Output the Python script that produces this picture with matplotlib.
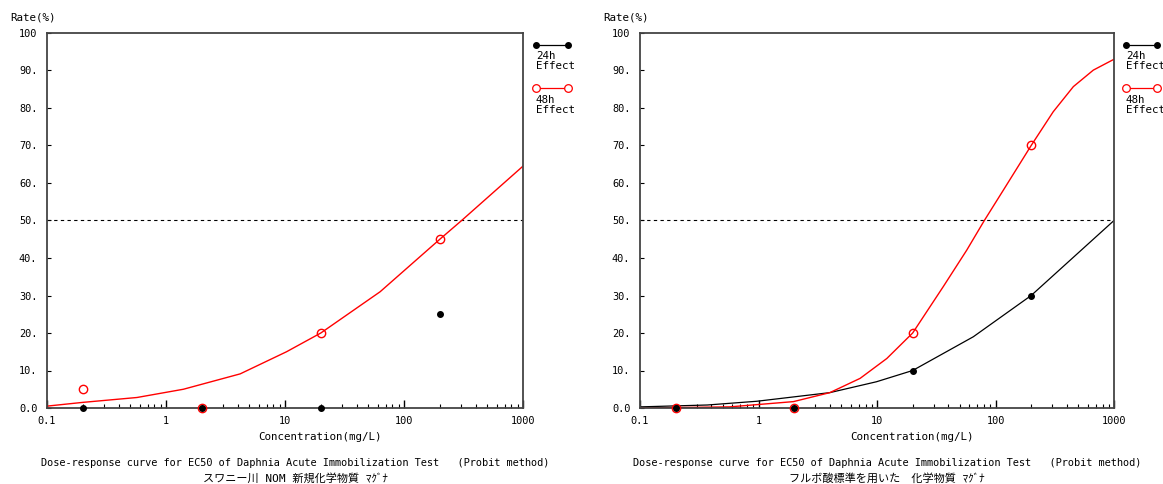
import numpy as np
import matplotlib
matplotlib.use("Agg")
import matplotlib.pyplot as plt
from matplotlib.ticker import FixedLocator, LogLocator, NullFormatter

plt.rcParams['font.family'] = ['DejaVu Sans Mono', 'Noto Sans CJK JP']
plt.rcParams['font.size'] = 7.4

# observed points (concentration mg/L, rate %)
conc_obs = [0.2, 2, 20, 200]
left_24h = [0, 0, 0, 25]
left_48h = [5, 0, 20, 45]
right_24h = [0, 0, 10, 30]
right_48h = [0, 0, 20, 70]

# fitted probit curves
left_fit48_x = [0.1, 0.2, 0.57, 1.4, 4.2, 10.3, 20, 63, 200, 305, 1000]
left_fit48_y = [0.5, 1.5, 2.8, 5.0, 9.1, 15.0, 20, 31, 45, 50, 64.5]

right_fit24_x = [0.1, 0.37, 0.97, 4.0, 9.9, 20, 65, 200, 1000]
right_fit24_y = [0.3, 0.8, 1.8, 4.1, 7.0, 10, 19, 30, 50]
right_fit48_x = [0.1, 0.57, 1.97, 4.0, 7.2, 12.1, 20, 36.3, 57.2, 80.5,
                 116.5, 200, 307, 454, 669, 1000]
right_fit48_y = [0.0, 0.3, 1.7, 4.1, 7.9, 13.2, 20, 32.4, 42.1, 50,
                 58.1, 70, 79, 85.7, 90.1, 93]

yticks = [0, 10, 20, 30, 40, 50, 60, 70, 80, 90, 100]
ytick_labels = ['0.0', '10.', '20.', '30.', '40.', '50.', '60.', '70.', '80.', '90.', '100']
xticks = [0.1, 1, 10, 100, 1000]
xtick_labels = ['0.1', '1', '10', '100', '1000']

title1 = 'Dose-response curve for EC50 of Daphnia Acute Immobilization Test   (Probit method)'
sub_left = 'スワニー川 NOM 新規化学物質 ﾏｸﾞﾅ'
sub_right = 'フルボ酸標準を用いた　化学物質 ﾏｸﾞﾅ'

W, H = 1163, 484
fig = plt.figure(figsize=(W / 100, H / 100), dpi=100)


def px(x, y):
    return x / W, 1 - y / H


def make_axes(x0, x1):
    ax = fig.add_axes([x0 / W, (H - 408) / H, (x1 - x0) / W, 375 / H])
    ax.set_xscale('log')
    ax.set_xlim(0.1, 1000)
    ax.set_ylim(0, 100)
    ax.xaxis.set_major_locator(FixedLocator(xticks))
    ax.set_xticklabels(xtick_labels)
    ax.xaxis.set_minor_locator(LogLocator(base=10, subs=np.arange(2, 10)))
    ax.xaxis.set_minor_formatter(NullFormatter())
    ax.set_yticks(yticks)
    ax.set_yticklabels(ytick_labels)
    ax.tick_params(axis='x', which='major', direction='in', length=6, width=1, pad=6, colors='black')
    ax.tick_params(axis='x', which='minor', direction='in', length=3, width=0.8)
    ax.tick_params(axis='y', direction='in', length=3, width=0.8, pad=7)
    for s in ax.spines.values():
        s.set_color('#444444')
        s.set_linewidth(1.3)
    ax.axhline(50, color='black', lw=0.8, ls=(0, (3, 3)))
    return ax


def legend(ax, x0, x1):
    fig.add_artist(plt.Line2D([x0 / W, x1 / W], [1 - 45 / H] * 2, color='black', lw=0.9,
                              marker='o', ms=4, mfc='black', mec='black'))
    fig.text(x0 / W, 1 - 51 / H, '24h\nEffect', ha='left', va='top', linespacing=1.0, fontsize=7.8)
    fig.add_artist(plt.Line2D([x0 / W, x1 / W], [1 - 88 / H] * 2, color='red', lw=0.9,
                              marker='o', ms=5.5, mfc='white', mec='red', mew=0.9))
    fig.text(x0 / W, 1 - 95 / H, '48h\nEffect', ha='left', va='top', linespacing=1.0, fontsize=7.8)


def decorate(ax, x0, x1, center, sub):
    fig.text(*px(x0 - 37, 18), 'Rate(%)', ha='left', va='center', fontsize=7.8)
    fig.text(*px(center + 35, 437), 'Concentration(mg/L)', ha='center', va='center', fontsize=7.8)
    fig.text(*px(center + 10, 463), title1, ha='center', va='center', fontsize=7.4)
    fig.text(*px(center + 10, 478), sub, ha='center', va='center', fontsize=8)


# left chart
ax1 = make_axes(47, 523)
ax1.plot(left_fit48_x, left_fit48_y, color='red', lw=1.0)
ax1.plot(conc_obs, left_48h, 'o', ms=6, mfc='none', mec='red', mew=1.0, clip_on=False, zorder=4)
ax1.plot(conc_obs, left_24h, 'o', ms=4, color='black', clip_on=False, zorder=5)
legend(ax1, 536, 568)
decorate(ax1, 47, 523, 285, sub_left)

# right chart
ax2 = make_axes(640, 1114)
ax2.plot(right_fit24_x, right_fit24_y, color='black', lw=0.9)
ax2.plot(right_fit48_x, right_fit48_y, color='red', lw=1.0)
ax2.plot(conc_obs, right_48h, 'o', ms=6, mfc='none', mec='red', mew=1.0, clip_on=False, zorder=4)
ax2.plot(conc_obs, right_24h, 'o', ms=4, color='black', clip_on=False, zorder=5)
legend(ax2, 1126, 1157)
decorate(ax2, 640, 1114, 877, sub_right)

fig.savefig('out.png', dpi=100)
